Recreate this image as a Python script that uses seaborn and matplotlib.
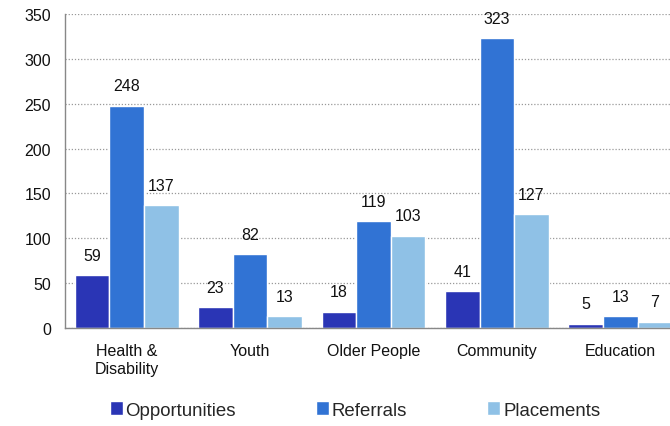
import matplotlib
matplotlib.use("Agg")
import matplotlib.pyplot as plt
import seaborn as sns
import pandas as pd
import numpy as np

categories = ["Health &\nDisability", "Youth", "Older People", "Community", "Education"]
series = ["Opportunities", "Referrals", "Placements"]
opportunities = [59, 23, 18, 41, 5]
referrals = [248, 82, 119, 323, 13]
placements = [137, 13, 103, 127, 7]
colors = ["#2a35b5", "#3173d4", "#8fc1e6"]

rows = []
for s, vals in zip(series, [opportunities, referrals, placements]):
    for c, v in zip(categories, vals):
        rows.append({"Category": c, "Series": s, "Value": v})
df = pd.DataFrame(rows)

sns.set_theme(style="white")
plt.rcParams["font.family"] = ["Liberation Sans", "DejaVu Sans"]

fig = plt.figure(figsize=(6.7, 4.27), dpi=100)
ax = fig.add_axes([65/670, 1-329/427, (682-65)/670, (329-15)/427])

sns.barplot(data=df, x="Category", y="Value", hue="Series", palette=colors,
            order=categories, hue_order=series, width=0.84, dodge=True,
            saturation=1, edgecolor="white", linewidth=1, ax=ax,
            legend=True, errorbar=None)

for cont in ax.containers:
    ax.bar_label(cont, padding=9, fontsize=11.5, color="#111111")

ax.set_ylim(0, 350)
ax.set_yticks(np.arange(0, 351, 50))
ax.set_xlim(-0.5, len(categories) - 0.5)
ax.set_xlabel("")
ax.set_ylabel("")
ax.yaxis.grid(True, linestyle=(0, (1, 1.5)), color="#999999", linewidth=0.9)
ax.set_axisbelow(True)
for side in ["top", "right"]:
    ax.spines[side].set_visible(False)
for side in ["left", "bottom"]:
    ax.spines[side].set_color("#888888")
    ax.spines[side].set_linewidth(1.0)

ax.tick_params(axis="x", which="major", length=0, labelsize=11.5, pad=11, colors="#111111")
ax.tick_params(axis="y", length=0, labelsize=11.5, pad=10, colors="#111111")
ax.set_xticks(np.arange(-0.5, len(categories), 1.0), minor=True)
ax.tick_params(axis="x", which="minor", length=5, width=1, color="#888888", direction="out")

handles, labels = ax.get_legend_handles_labels()
ax.get_legend().remove()
fig.legend(handles, labels, loc="center", bbox_to_anchor=(355/670, 16/427),
           ncol=3, frameon=False, fontsize=13.4, handlelength=0.7, handleheight=0.7,
           handletextpad=0.15, columnspacing=4.3)

fig.savefig("out.png", dpi=100)
